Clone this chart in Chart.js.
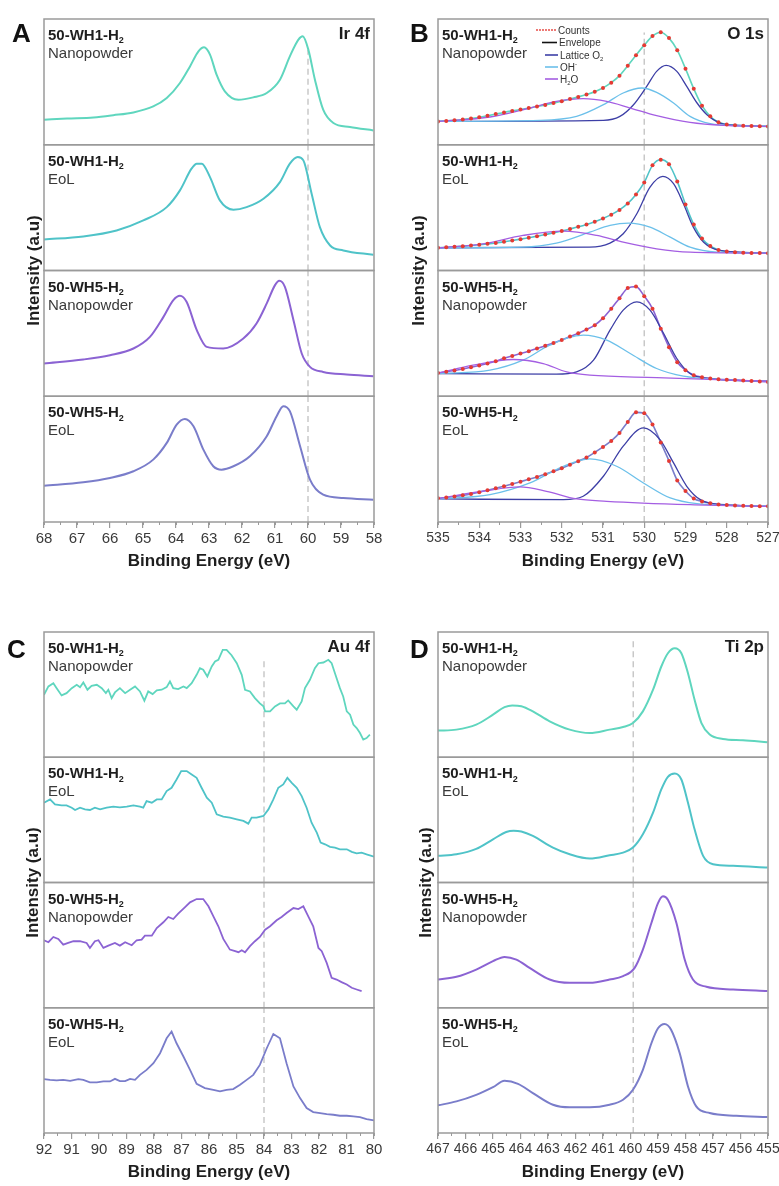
<!DOCTYPE html>
<html>
<head>
<meta charset="utf-8">
<script src="https://cdn.jsdelivr.net/npm/chart.js@4.4.1/dist/chart.umd.min.js"></script>
<style>
  html, body { margin: 0; padding: 0; background: #fff; }
  body { width: 779px; height: 1186px; position: relative; overflow: hidden; }
  .panel { position: absolute; }
</style>
</head>
<body>
<div class="panel" style="left:0;top:0"><canvas id="panelA" width="389" height="580"></canvas></div>
<div class="panel" style="left:389px;top:0"><canvas id="panelB" width="390" height="580"></canvas></div>
<div class="panel" style="left:0;top:580px"><canvas id="panelC" width="389" height="606"></canvas></div>
<div class="panel" style="left:389px;top:580px"><canvas id="panelD" width="390" height="606"></canvas></div>
<script>
const FONT = "'Liberation Sans', Arial, sans-serif";
Chart.defaults.font.family = FONT;

// every row of a panel is an offset trace on its own stacked y axis (0..rowSpan)
const rowSpan = 125.6;

const sampleNames = ['50-WH1-H_2', '50-WH1-H_2', '50-WH5-H_2', '50-WH5-H_2'];
const sampleStates = ['Nanopowder', 'EoL', 'Nanopowder', 'EoL'];
const yTitle = 'Intensity (a.u)';
const xTitle = 'Binding Energy (eV)';

// ---------- Ir 4f ----------
const irRange = [58, 68];
const irRef = 60;
const ir_wh1_nano = [[68.00,25],[67.30,26.2],[66.50,27.3],[65.90,29.5],[65.29,32.3],[64.69,38.3],[64.28,46.7],[63.88,61.7],[63.58,78],[63.32,93.3],[63.15,97.3],[62.97,90],[62.77,70],[62.52,53.3],[62.11,45],[61.66,47.3],[61.25,51.7],[60.85,65],[60.55,88.3],[60.29,105],[60.16,108.3],[59.99,95],[59.79,65],[59.54,35],[59.23,21.7],[58.73,17.7],[58.02,14.3]];
const ir_wh1_eol = [[68.00,31],[66.81,34],[65.80,40],[64.99,50],[64.28,63.3],[63.88,80],[63.53,101.7],[63.37,106.7],[63.22,106.7],[62.97,93.3],[62.67,70],[62.26,60.7],[61.86,63.3],[61.35,71.7],[60.85,88.3],[60.55,106.7],[60.31,113.3],[60.14,110],[59.89,76.7],[59.64,43.3],[59.33,25],[58.93,20],[58.02,15.7]];
const ir_wh5_nano = [[68.00,32.7],[66.81,36.7],[66.00,41],[65.29,47.7],[64.79,59.3],[64.38,79.3],[64.08,96],[63.88,100.3],[63.68,94.3],[63.37,66],[63.07,49.3],[62.57,47.7],[61.96,57.7],[61.56,72.7],[61.25,92.7],[61.00,111],[60.87,115.3],[60.70,109.3],[60.44,76],[60.19,42.7],[59.94,29.3],[59.54,24.3],[58.83,21.7],[58.02,20]];
const ir_wh5_eol = [[68.00,36.3],[66.81,39.7],[66.00,44],[65.29,50.7],[64.69,62.3],[64.28,79],[63.98,97.3],[63.73,103],[63.47,95.7],[63.17,72.3],[62.87,55.7],[62.62,52.3],[62.26,55.7],[61.76,65.7],[61.25,85.7],[60.95,105.7],[60.75,115.7],[60.55,110.7],[60.24,75.7],[59.94,42.3],[59.54,27.3],[58.93,24],[58.02,22.3]];

// ---------- O 1s ----------
const o1sRange = [527, 535];
const o1sRef = 530;
const o1sLegend = ['Counts', 'Envelope', 'Lattice O_2', 'OH^-', 'H_2O'];
const o1sEnergy = [535.0,534.8,534.6,534.4,534.2,534.0,533.8,533.6,533.4,533.2,533.0,532.8,532.6,532.4,532.2,532.0,531.8,531.6,531.4,531.2,531.0,530.8,530.6,530.4,530.2,530.0,529.8,529.6,529.4,529.2,529.0,528.8,528.6,528.4,528.2,528.0,527.8,527.6,527.4,527.2,527.0];
const o1s_counts_wh1_nano = [23.3,23.8,24.4,25.2,26.3,27.5,29,30.6,32.3,33.8,35.2,36.6,38.2,39.8,41.6,43.5,45.6,47.8,50.2,53,56.8,62,69,79,89.5,99.5,108.5,112.3,106.5,94.5,76,56,39,28.5,22.5,20.3,19.5,19,18.8,18.5,18.3];
const o1s_counts_wh1_eol = [22.7,23.2,23.7,24.3,25,25.8,26.6,27.5,28.6,29.9,31.3,32.8,34.3,35.9,37.7,39.5,41.5,43.6,46,48.8,52,55.8,60.5,67,76,88,105,110.7,106,89,66,46,32,24.5,20.5,19,18.2,17.8,17.6,17.4,17.3];
const o1s_counts_wh5_nano = [23.3,24.4,25.7,27.3,29,30.8,32.8,35,37.9,40.3,42.6,45,47.6,50.4,53.2,56.2,59.6,63,66.6,71,78,87.5,98,108,109.5,100,87.5,67.5,49,34,26,21,19,17.7,17,16.6,16.2,15.8,15.2,14.7,14.3];
const o1s_counts_wh5_eol = [23.7,24.5,25.5,26.6,28,29.8,31.8,33.8,35.8,38,40.3,42.6,45,47.6,50.6,53.8,57.2,60.8,64.5,69.5,75,81,89,100,109.5,108.5,97.5,79.5,61,41.5,31,23.5,20.5,18.8,17.6,17,16.6,16.3,16,15.8,15.7];
const o1s_lattice = [
  [[534.96,23.3],[530.99,24.3],[530.59,28.3],[530.26,40],[529.94,58.3],[529.70,73.3],[529.47,79.3],[529.21,73.3],[528.97,58.3],[528.72,41.7],[528.48,30],[528.16,21.7],[527.67,19.3],[527.02,18.3]],
  [[534.96,22.7],[531.32,23.3],[530.83,27.3],[530.51,36.7],[530.18,56.7],[529.86,83.3],[529.55,94],[529.29,86.7],[529.05,66.7],[528.81,43.3],[528.56,28.3],[528.16,20],[527.02,17.3]],
  [[534.96,22.7],[532.13,22],[531.64,24.3],[531.23,36],[530.83,66],[530.51,86],[530.18,94.3],[529.86,86],[529.53,62.7],[529.21,37.7],[528.89,22.7],[528.40,17.7],[527.02,15]],
  [[534.96,23],[531.96,22.3],[531.48,25.7],[530.99,45.7],[530.51,75.7],[530.02,94],[529.62,82.3],[529.29,59],[528.97,35.7],[528.64,22.3],[528.08,17.3],[527.02,15.7]]
];
const o1s_hydroxide = [
  [[534.96,23.3],[532.53,24.3],[531.64,28.3],[530.99,40],[530.51,51.7],[530.06,56.7],[529.70,52.3],[529.29,41.7],[528.89,28.3],[528.40,21],[527.67,19],[527.02,18.3]],
  [[534.96,22.7],[532.94,23.3],[532.13,27.3],[531.32,38.3],[530.83,45],[530.38,47.3],[529.86,43.3],[529.37,33.3],[528.89,23.3],[528.24,18.3],[527.02,17.3]],
  [[534.96,22.7],[533.74,26],[532.94,36],[532.29,51],[531.48,61],[530.91,56],[530.34,42.7],[529.70,27.7],[529.05,20],[528.08,16.7],[527.02,15]],
  [[534.96,23],[533.74,27.3],[532.77,39],[531.96,55.7],[531.32,63],[530.67,55.7],[530.02,39],[529.37,24],[528.72,18.3],[527.02,15.7]]
];
const o1s_water = [
  [[534.96,23.3],[533.74,27.7],[532.77,36.7],[532.13,43.3],[531.48,46],[530.91,43.3],[530.34,36.7],[529.70,29],[528.89,22.3],[528.08,19.3],[527.02,18.3]],
  [[534.96,22.7],[533.91,26.7],[532.94,35],[531.96,39.3],[531.15,35],[530.51,28.3],[529.70,21.7],[528.89,18.3],[527.02,17.3]],
  [[534.96,23.3],[534.15,31],[533.18,36.7],[532.45,32.7],[531.88,24.3],[531.32,21],[529.70,18.7],[527.02,15]],
  [[534.96,23.7],[533.91,30.7],[533.02,35],[532.37,30.7],[531.64,23],[530.91,20.7],[528.89,17.3],[527.02,15.7]]
];

// ---------- Au 4f ----------
const auRange = [80, 92];
const auRef = 84;
const au_wh1_nano = [[92.00,62.7],[91.84,71],[91.66,74.3],[91.54,69.3],[91.36,62],[91.18,64.3],[90.99,69.3],[90.81,72.7],[90.69,70.3],[90.57,75],[90.42,67.7],[90.27,71.7],[90.08,72.7],[89.90,69.3],[89.75,64.3],[89.66,67.7],[89.54,59.3],[89.42,65],[89.24,69.3],[89.05,64.3],[88.87,67.7],[88.69,71],[88.51,66],[88.35,56.7],[88.21,66],[88.05,63.3],[87.90,67],[87.72,67.7],[87.54,70.3],[87.42,76],[87.30,69.3],[87.12,68.3],[86.93,71],[86.81,69.3],[86.63,74.3],[86.45,82.7],[86.33,89.3],[86.21,87.7],[86.06,81],[85.90,91],[85.78,96],[85.66,97.7],[85.50,107.7],[85.36,107.7],[85.18,102.3],[84.99,94.3],[84.81,82.7],[84.69,67.7],[84.51,66],[84.33,59.3],[84.15,54],[84.02,51],[83.96,46],[83.78,46],[83.60,51],[83.42,54],[83.24,54],[83.12,57],[82.93,51],[82.81,47.7],[82.63,56],[82.51,69.3],[82.33,77.7],[82.15,89.3],[82.02,94.3],[81.84,95],[81.66,97.7],[81.54,94.3],[81.42,84.3],[81.24,69.3],[81.12,61],[80.99,46],[80.87,42.7],[80.75,32.7],[80.63,29.3],[80.51,24.3],[80.39,17.7],[80.27,19.3],[80.15,22.7]];
const au_wh1_eol = [[92.00,80],[91.78,83.3],[91.60,78.3],[91.36,77.3],[91.18,77.3],[90.99,75],[90.87,72.7],[90.69,75],[90.51,73.3],[90.33,72.7],[90.15,75],[89.96,73.3],[89.72,75],[89.48,76],[89.24,75.3],[88.99,76],[88.75,77.3],[88.51,76],[88.39,75],[88.27,81.7],[88.08,80],[87.90,83.3],[87.72,83.3],[87.54,91.7],[87.36,95],[87.18,103.3],[87.01,111.7],[86.81,111.7],[86.63,108.3],[86.45,105],[86.27,95],[86.08,85],[85.90,80],[85.72,68.3],[85.48,66],[85.24,65],[84.99,63.3],[84.75,61.7],[84.57,59],[84.45,65],[84.27,65],[84.02,66.7],[83.84,73.3],[83.66,83.3],[83.48,95],[83.30,98.3],[83.15,105],[82.99,100],[82.81,95],[82.63,86.7],[82.45,75],[82.27,60],[82.08,50],[81.94,40],[81.78,38.3],[81.60,35.7],[81.42,35],[81.24,33.3],[80.99,33.3],[80.81,30.7],[80.63,29.3],[80.45,30],[80.27,28.3],[80.00,26]];
const au_wh5_nano = [[92.00,67.7],[91.84,65.7],[91.66,71],[91.48,69],[91.30,63.3],[91.12,65],[90.93,66.7],[90.69,66.7],[90.45,65],[90.33,60],[90.15,66.7],[90.02,67.7],[89.84,60],[89.66,62.3],[89.42,65],[89.24,62.3],[89.05,65.7],[88.81,62.7],[88.63,67.7],[88.45,68.3],[88.33,72.3],[88.08,72.3],[87.90,80],[87.66,85.7],[87.48,91],[87.30,89],[87.12,94.3],[86.87,101],[86.69,105.7],[86.45,109],[86.21,109],[86.02,101.7],[85.84,91.7],[85.66,81.7],[85.48,69],[85.24,58.3],[85.05,56.7],[84.93,55.7],[84.81,57.7],[84.69,55.7],[84.51,61.7],[84.33,66.7],[84.15,71],[83.96,78.3],[83.78,81.7],[83.54,87.7],[83.36,91],[83.18,95],[82.93,100],[82.75,99],[82.57,101.7],[82.39,91.7],[82.21,81.7],[82.02,60],[81.90,56.7],[81.72,45],[81.54,30],[81.36,28.3],[81.18,25.7],[80.99,23.3],[80.81,20],[80.63,18.3],[80.45,16.7]];
const au_wh5_eol = [[92.00,54],[91.78,53.3],[91.54,52.7],[91.30,53.3],[91.05,52.3],[90.75,54],[90.57,53.3],[90.33,50.7],[90.08,50.7],[89.84,51.7],[89.60,51.7],[89.42,54.3],[89.24,52],[89.05,52],[88.87,54.3],[88.69,53.3],[88.51,58.3],[88.27,63.3],[88.02,70],[87.78,80],[87.54,95],[87.36,101.7],[87.18,90],[86.93,76.7],[86.69,63.3],[86.45,49.3],[86.15,45],[85.84,43.3],[85.60,41.7],[85.36,43.3],[85.12,44],[84.87,48.3],[84.63,53.3],[84.39,58.3],[84.15,68.3],[83.90,85],[83.66,99.3],[83.42,95],[83.18,70],[82.93,46.7],[82.69,35],[82.45,25],[82.21,21],[81.96,20],[81.72,19],[81.48,18.3],[81.24,17.3],[80.99,17.3],[80.75,16.7],[80.51,16],[80.27,14],[80.00,12.7]];

// ---------- Ti 2p ----------
const tiRange = [455, 467];
const tiRef = 459.9;
const ti_wh1_nano = [[467.00,26.7],[466.33,27.7],[465.61,32.7],[465.00,42.7],[464.58,50.3],[464.30,52],[463.97,51.2],[463.55,46],[462.94,36],[462.21,27.7],[461.48,24.3],[460.76,27.7],[460.27,30.3],[459.91,34.3],[459.55,46],[459.18,67.7],[458.88,91],[458.64,104.3],[458.39,109.3],[458.15,104.3],[457.91,84.3],[457.67,57.7],[457.42,34.3],[457.12,22.7],[456.64,18.3],[455.91,17],[455.02,15]];
const ti_wh1_eol = [[467.00,26.7],[466.33,28.3],[465.61,33.7],[465.00,43.3],[464.52,50.7],[464.25,52],[463.97,51.2],[463.55,46.7],[462.82,35],[462.21,28.3],[461.48,24],[460.76,27.3],[460.27,30],[459.91,35],[459.55,48.3],[459.18,70],[458.88,93.3],[458.64,106],[458.39,109.3],[458.15,103.3],[457.91,80],[457.67,53.3],[457.36,26.7],[457.00,18.3],[456.27,16.7],[455.02,15]];
const ti_wh5_nano = [[467.00,28.3],[466.33,31],[465.61,38.3],[465.00,46.7],[464.58,51],[464.15,48.3],[463.67,40],[462.94,28.3],[462.21,25],[461.48,25],[460.76,28.3],[460.27,31.7],[459.85,40],[459.55,58.3],[459.24,85],[459.00,105],[458.82,111.7],[458.64,108.3],[458.33,85],[458.03,48.3],[457.73,28.3],[457.24,21],[456.27,18.3],[455.02,16.7]];
const ti_wh5_eol = [[467.00,27.7],[466.33,31.7],[465.61,38.3],[465.00,46],[464.58,52.3],[464.09,49.3],[463.55,40],[462.82,28.3],[462.21,25.7],[461.48,25.7],[460.76,28.3],[460.27,33.3],[459.91,43.3],[459.55,63.3],[459.24,90],[459.00,105],[458.76,109.3],[458.52,103.3],[458.21,80],[457.91,46.7],[457.61,26.7],[457.12,20],[456.15,17.3],[455.02,16]];

// ---------- styles ----------
const sampleColors = ['#5fd6be', '#4fc3c8', '#8b63d3', '#7a7dca'];
const latticeColor = '#3d3fa6';
const hydroxideColor = '#6cc0ea';
const waterColor = '#a45ee2';
const countsColor = '#e53a33';
const refColor = '#c8c8c8';
const frameColor = '#9a9a9a';

const pts = arr => arr.map(([x, y]) => ({ x, y }));

// text with _x subscripts and ^x superscripts
function drawRich(ctx, text, x, y, size, weight, color, align) {
  const parts = [];
  for (let i = 0; i < text.length; i++) {
    const c = text[i];
    if ((c === '_' || c === '^') && i + 1 < text.length) {
      parts.push({ t: text[i + 1], mode: c });
      i++;
    } else if (parts.length && parts[parts.length - 1].mode === '') {
      parts[parts.length - 1].t += c;
    } else {
      parts.push({ t: c, mode: '' });
    }
  }
  const fontFor = p => `${weight} ${p.mode ? Math.round(size * 0.62) : size}px ${FONT}`;
  let total = 0;
  parts.forEach(p => { ctx.font = fontFor(p); p.w = ctx.measureText(p.t).width; total += p.w; });
  let cx = align === 'right' ? x - total : x;
  ctx.fillStyle = color;
  ctx.textAlign = 'left';
  ctx.textBaseline = 'alphabetic';
  parts.forEach(p => {
    ctx.font = fontFor(p);
    const dy = p.mode === '_' ? size * 0.22 : (p.mode === '^' ? -size * 0.42 : 0);
    ctx.fillText(p.t, cx, y + dy);
    cx += p.w;
  });
}

// frames, sample labels, element name, panel letter, y title, legend
const decor = {
  id: 'decor',
  afterDatasetsDraw(chart, args, opts) {
    const ctx = chart.ctx;
    const a = chart.chartArea;
    const rows = [0, 1, 2, 3].map(r => chart.scales['y' + r]);
    ctx.save();
    ctx.strokeStyle = frameColor;
    ctx.lineWidth = 1.5;
    rows.forEach(s => ctx.strokeRect(a.left, s.top, a.right - a.left, s.bottom - s.top));
    rows.forEach((s, r) => {
      drawRich(ctx, sampleNames[r], a.left + 4, s.top + 21, 15, 'bold', '#1e1e1e');
      drawRich(ctx, sampleStates[r], a.left + 4, s.top + 39, 15, 'normal', '#3a3a3a');
    });
    drawRich(ctx, opts.element, a.right - 4, rows[0].top + 20, 17, 'bold', '#1e1e1e', 'right');
    drawRich(ctx, opts.letter, opts.letterX, opts.letterY, 26, 'bold', '#111');

    ctx.save();
    ctx.translate(opts.yTitleX, (a.top + a.bottom) / 2);
    ctx.rotate(-Math.PI / 2);
    ctx.font = `bold 17px ${FONT}`;
    ctx.textAlign = 'center';
    ctx.textBaseline = 'middle';
    ctx.fillStyle = '#1e1e1e';
    ctx.fillText(yTitle, 0, 0);
    ctx.restore();

    if (opts.legend) {
      const colors = [countsColor, '#111', latticeColor, hydroxideColor, waterColor];
      const lineX = [[148, 167], [153, 168], [156, 169], [156, 169], [156, 169]];
      const rowY = [30, 42.5, 55, 67, 79];
      opts.legend.forEach((label, i) => {
        const y = rowY[i];
        if (i === 0) {
          ctx.fillStyle = colors[0];
          for (let px = lineX[0][0]; px <= lineX[0][1]; px += 3) {
            ctx.beginPath();
            ctx.arc(px, y, 0.9, 0, Math.PI * 2);
            ctx.fill();
          }
        } else {
          ctx.strokeStyle = colors[i];
          ctx.lineWidth = 1.6;
          ctx.beginPath();
          ctx.moveTo(lineX[i][0], y);
          ctx.lineTo(lineX[i][1], y);
          ctx.stroke();
        }
        drawRich(ctx, label, lineX[i][1] + 2, y + 3.5, 10, 'normal', '#333');
      });
    }
    ctx.restore();
  }
};

function refLine(ref, r, top) {
  return {
    data: [{ x: ref, y: 0 }, { x: ref, y: top }],
    yAxisID: 'y' + r,
    borderColor: refColor,
    borderWidth: 1.5,
    borderDash: [6, 4],
    pointRadius: 0,
    order: 10
  };
}

function trace(data, r, color, width, smooth) {
  return {
    data: pts(data),
    yAxisID: 'y' + r,
    borderColor: color,
    borderWidth: width,
    pointRadius: 0,
    cubicInterpolationMode: smooth ? 'monotone' : 'default',
    tension: 0,
    order: 1
  };
}

function makePanel(id, cfg) {
  const scales = {
    x: {
      type: 'linear',
      reverse: true,
      min: cfg.range[0],
      max: cfg.range[1],
      weight: 1,
      afterFit(s) { s.height = 52; s.paddingLeft = 0; s.paddingRight = 0; },
      ticks: {
        stepSize: 1, autoSkip: false, maxRotation: 0, padding: 2,
        color: '#3a3a3a', font: { size: cfg.tickSize }
      },
      grid: { drawOnChartArea: false, tickLength: 6, color: frameColor, lineWidth: 1.2 },
      border: { display: false },
      title: {
        display: true, text: xTitle, color: '#1e1e1e',
        font: { size: 17, weight: 'bold' }, padding: { top: 0, bottom: 2 }
      }
    },
    xMinor: {
      type: 'linear',
      reverse: true,
      min: cfg.range[0],
      max: cfg.range[1],
      weight: 0,
      afterFit(s) { s.height = 0; s.paddingLeft = 0; s.paddingRight = 0; },
      ticks: { stepSize: 0.5, display: false },
      grid: { drawOnChartArea: false, tickLength: 3, color: frameColor, lineWidth: 1 },
      border: { display: false }
    }
  };
  // stacked rows are laid out bottom-up in key order, so add the last row first
  for (let r = 3; r >= 0; r--) {
    scales['y' + r] = {
      type: 'linear', position: 'left', stack: 'rows', stackWeight: 1,
      min: 0, max: rowSpan,
      afterFit(s) { s.width = 0; },
      ticks: { display: false },
      grid: { display: false },
      border: { display: false }
    };
  }
  return new Chart(document.getElementById(id), {
    type: 'line',
    data: { datasets: cfg.datasets },
    plugins: [decor],
    options: {
      responsive: false,
      animation: false,
      events: [],
      layout: { padding: cfg.padding },
      scales,
      plugins: {
        legend: { display: false },
        tooltip: { enabled: false },
        decor: cfg.decor
      }
    }
  });
}

// ---------- panel A ----------
const irRows = [ir_wh1_nano, ir_wh1_eol, ir_wh5_nano, ir_wh5_eol];
makePanel('panelA', {
  range: irRange,
  tickSize: 15,
  padding: { left: 44, right: 15, top: 19, bottom: 6 },
  datasets: [
    ...irRows.map((d, r) => trace(d, r, sampleColors[r], 2, true)),
    refLine(irRef, 0, 95), refLine(irRef, 1, rowSpan), refLine(irRef, 2, rowSpan), refLine(irRef, 3, rowSpan)
  ],
  decor: { element: 'Ir 4f', letter: 'A', letterX: 12, letterY: 42, yTitleX: 34 }
});

// ---------- panel B ----------
const o1sCounts = [o1s_counts_wh1_nano, o1s_counts_wh1_eol, o1s_counts_wh5_nano, o1s_counts_wh5_eol];
const o1sSets = [];
o1sCounts.forEach((counts, r) => {
  const data = o1sEnergy.map((e, i) => [e, counts[i]]);
  o1sSets.push(trace(o1s_water[r], r, waterColor, 1.3, true));
  o1sSets.push(trace(o1s_hydroxide[r], r, hydroxideColor, 1.3, true));
  o1sSets.push(trace(o1s_lattice[r], r, latticeColor, 1.3, true));
  o1sSets.push(trace(data, r, sampleColors[r], 1.6, true));
  o1sSets.push({
    data: pts(data), yAxisID: 'y' + r, showLine: false,
    pointRadius: 2, pointBorderWidth: 0, pointBackgroundColor: countsColor, order: -1
  });
  o1sSets.push(refLine(o1sRef, r, r === 0 ? 112 : rowSpan));
});
makePanel('panelB', {
  range: o1sRange,
  tickSize: 14,
  padding: { left: 49, right: 11, top: 19, bottom: 6 },
  datasets: o1sSets,
  decor: { element: 'O 1s', letter: 'B', letterX: 21, letterY: 42, yTitleX: 30, legend: o1sLegend }
});

// ---------- panel C ----------
const auRows = [au_wh1_nano, au_wh1_eol, au_wh5_nano, au_wh5_eol];
makePanel('panelC', {
  range: auRange,
  tickSize: 15,
  padding: { left: 44, right: 15, top: 52, bottom: 1 },
  datasets: [
    ...auRows.map((d, r) => trace(d, r, sampleColors[r], 1.8, false)),
    refLine(auRef, 0, 97.7), refLine(auRef, 1, rowSpan), refLine(auRef, 2, rowSpan), refLine(auRef, 3, rowSpan)
  ],
  decor: { element: 'Au 4f', letter: 'C', letterX: 7, letterY: 78, yTitleX: 33 }
});

// ---------- panel D ----------
const tiRows = [ti_wh1_nano, ti_wh1_eol, ti_wh5_nano, ti_wh5_eol];
makePanel('panelD', {
  range: tiRange,
  tickSize: 14,
  padding: { left: 49, right: 11, top: 52, bottom: 1 },
  datasets: [
    ...tiRows.map((d, r) => trace(d, r, sampleColors[r], 2, true)),
    refLine(tiRef, 0, 119.7), refLine(tiRef, 1, rowSpan), refLine(tiRef, 2, rowSpan), refLine(tiRef, 3, rowSpan)
  ],
  decor: { element: 'Ti 2p', letter: 'D', letterX: 21, letterY: 78, yTitleX: 37 }
});
</script>
</body>
</html>
